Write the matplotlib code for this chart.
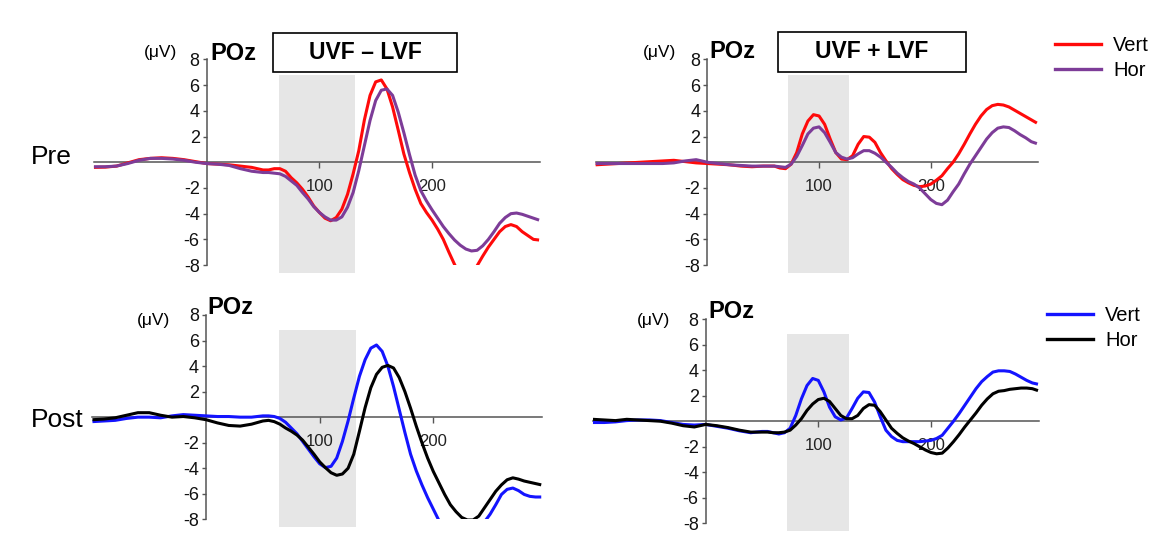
import numpy as np
import matplotlib
matplotlib.use("Agg")
import matplotlib.pyplot as plt
from matplotlib.patches import Rectangle
from matplotlib.lines import Line2D

plt.rcParams['font.family'] = ['Liberation Sans', 'DejaVu Sans']
plt.rcParams['axes.unicode_minus'] = False

# time axis (ms): 10 ms steps in the baseline, 5 ms steps afterwards
t_ms = [-100, -90, -80, -70, -60, -50, -40, -30, -20, -10, 0, 10, 20, 30, 40, 50,
        55, 60, 65, 70, 75, 80, 85, 90, 95, 100, 105, 110, 115, 120, 125, 130,
        135, 140, 145, 150, 155, 160, 165, 170, 175, 180, 185, 190, 195, 200,
        205, 210, 215, 220, 225, 230, 235, 240, 245, 250, 255, 260, 265, 270,
        275, 280, 285, 290, 295]

# Pre, UVF - LVF
pre_diff_vert = [-0.4, -0.38, -0.3, -0.05, 0.2, 0.3, 0.35, 0.3, 0.2, 0.05, -0.1, -0.15, -0.2, -0.3, -0.4, -0.6,
                 -0.6, -0.5, -0.5, -0.7, -1.2, -1.6, -2.1, -2.7, -3.4, -3.9, -4.35, -4.55, -4.3, -3.65, -2.5, -0.9,
                 0.9, 3.3, 5.2, 6.25, 6.4, 5.7, 4.3, 2.5, 0.65, -0.8, -2.1, -3.2, -3.9, -4.5,
                 -5.2, -6.0, -7.0, -7.95, -8.8, -9.2, -8.9, -8.05, -7.3, -6.6, -6.0, -5.4, -5.0, -4.85,
                 -5.0, -5.4, -5.7, -6.0, -6.05]
pre_diff_hor = [-0.35, -0.35, -0.3, -0.1, 0.15, 0.3, 0.3, 0.25, 0.15, 0.0, -0.1, -0.15, -0.25, -0.5, -0.7, -0.8,
                -0.8, -0.85, -0.9, -1.1, -1.45, -1.8, -2.35, -2.85, -3.45, -3.9, -4.25, -4.5, -4.5, -4.25, -3.5, -2.35,
                -0.65, 1.3, 3.25, 4.8, 5.6, 5.7, 5.2, 3.9, 2.3, 0.6, -1.0, -2.2, -3.0, -3.7,
                -4.35, -5.0, -5.55, -6.05, -6.45, -6.75, -6.9, -6.85, -6.5, -6.0, -5.4, -4.75, -4.3, -4.0,
                -3.95, -4.05, -4.2, -4.35, -4.5]

# Pre, UVF + LVF
pre_sum_vert = [-0.2, -0.15, -0.1, -0.05, 0.0, 0.05, 0.1, 0.15, 0.05, -0.05, -0.1, -0.15, -0.2, -0.3, -0.35, -0.3,
                -0.3, -0.3, -0.45, -0.5, -0.15, 0.75, 2.2, 3.2, 3.7, 3.6, 2.95, 1.8, 0.75, 0.25, 0.2, 0.5,
                1.4, 2.0, 1.95, 1.55, 0.75, 0.1, -0.5, -0.95, -1.35, -1.6, -1.8, -1.9, -1.85, -1.7,
                -1.4, -1.05, -0.5, 0.0, 0.65, 1.4, 2.2, 2.95, 3.6, 4.1, 4.4, 4.5, 4.45, 4.3,
                4.05, 3.8, 3.55, 3.3, 3.05]
pre_sum_hor = [-0.1, -0.1, -0.1, -0.1, -0.1, -0.1, -0.1, -0.05, 0.1, 0.2, 0.0, -0.1, -0.2, -0.25, -0.3, -0.3,
               -0.3, -0.3, -0.35, -0.4, -0.15, 0.45, 1.3, 2.2, 2.65, 2.75, 2.3, 1.55, 0.75, 0.4, 0.25, 0.35,
               0.65, 0.9, 0.9, 0.7, 0.4, 0.0, -0.4, -0.85, -1.2, -1.5, -1.7, -2.0, -2.45, -2.9,
               -3.2, -3.3, -2.95, -2.3, -1.7, -0.9, -0.15, 0.5, 1.15, 1.8, 2.3, 2.65, 2.75, 2.7,
               2.45, 2.15, 1.9, 1.6, 1.45]

# Post, UVF - LVF
post_diff_vert = [-0.35, -0.3, -0.25, -0.1, 0.0, 0.0, -0.05, 0.1, 0.2, 0.15, 0.1, 0.05, 0.05, 0.0, 0.0, 0.1,
                  0.1, 0.05, -0.1, -0.4, -0.85, -1.3, -1.9, -2.5, -3.1, -3.65, -3.95, -3.85, -3.2, -1.9, -0.3, 1.5,
                  3.2, 4.5, 5.4, 5.65, 5.15, 4.0, 2.4, 0.6, -1.2, -2.9, -4.2, -5.3, -6.3, -7.2,
                  -8.1, -8.8, -9.3, -9.6, -9.7, -9.6, -9.3, -8.8, -8.2, -7.6, -6.85, -6.05, -5.65, -5.55,
                  -5.75, -6.05, -6.2, -6.25, -6.25]
post_diff_hor = [-0.2, -0.15, -0.05, 0.15, 0.35, 0.35, 0.15, 0.0, 0.05, -0.05, -0.2, -0.45, -0.65, -0.7, -0.55, -0.3,
                 -0.25, -0.35, -0.55, -0.85, -1.1, -1.4, -1.8, -2.35, -2.9, -3.5, -3.95, -4.35, -4.55, -4.45, -4.0, -2.9,
                 -1.1, 0.75, 2.3, 3.35, 3.9, 4.05, 3.85, 3.1, 2.0, 0.7, -0.7, -2.0, -3.2, -4.25,
                 -5.15, -6.05, -6.85, -7.4, -7.85, -8.05, -8.05, -7.75, -7.1, -6.45, -5.8, -5.3, -4.9, -4.75,
                 -4.85, -5.0, -5.1, -5.2, -5.3]

# Post, UVF + LVF
post_sum_vert = [-0.1, -0.1, -0.05, 0.05, 0.1, 0.1, 0.05, -0.1, -0.25, -0.3, -0.25, -0.4, -0.55, -0.75, -0.9, -0.8,
                 -0.8, -0.9, -1.0, -0.9, -0.55, 0.45, 1.75, 2.8, 3.35, 3.2, 2.3, 1.1, 0.35, 0.1, 0.25, 1.0,
                 1.8, 2.3, 2.25, 1.5, 0.35, -0.7, -1.2, -1.5, -1.6, -1.6, -1.6, -1.6, -1.55, -1.5,
                 -1.35, -1.1, -0.55, 0.0, 0.6, 1.25, 1.9, 2.55, 3.1, 3.5, 3.85, 3.95, 3.95, 3.9,
                 3.7, 3.45, 3.2, 3.0, 2.9]
post_sum_hor = [0.15, 0.1, 0.05, 0.15, 0.1, 0.05, 0.0, -0.15, -0.35, -0.45, -0.25, -0.35, -0.5, -0.7, -0.85, -0.85,
                -0.85, -0.9, -0.9, -0.85, -0.7, -0.3, 0.2, 0.85, 1.35, 1.7, 1.8, 1.55, 1.0, 0.45, 0.2, 0.2,
                0.45, 1.0, 1.3, 1.25, 0.75, 0.1, -0.55, -0.95, -1.3, -1.55, -1.75, -2.0, -2.25, -2.45,
                -2.55, -2.5, -2.1, -1.6, -1.05, -0.45, 0.1, 0.65, 1.25, 1.75, 2.15, 2.35, 2.4, 2.5,
                2.55, 2.6, 2.6, 2.55, 2.4]

# analysis windows (ms) shaded in grey
window_diff = (64, 132)
window_sum = (72, 127)

y_ticks = [-8, -6, -4, -2, 2, 4, 6, 8]
x_ticks = [100, 200]

RED, PURPLE, BLUE, BLACK = '#ff0a0a', '#7d3c98', '#1414ff', '#000000'
AXIS_GREY = '#555555'

W, H = 1157, 547
fig = plt.figure(figsize=(W / 100, H / 100), dpi=100)


def px(x, y):
    """pixel position -> figure fraction"""
    return x / W, 1 - y / H


def draw_panel(rect, window, curves):
    ax = fig.add_axes(rect)
    ax.set_xlim(-100, 300)
    ax.set_ylim(-8.7, 8.3)
    ax.fill_between(list(window), -8.6, 6.8, color='#e6e6e6', lw=0, zorder=0)
    clip = Rectangle((-101, -8), 402, 17, transform=ax.transData)
    for vals, col in curves:
        ln, = ax.plot(t_ms, vals, color=col, lw=2.2, zorder=3,
                      solid_capstyle='butt', solid_joinstyle='round')
        ln.set_clip_path(clip)
    for s in ['top', 'right']:
        ax.spines[s].set_visible(False)
    ax.spines['left'].set_position(('data', 0))
    ax.spines['left'].set_bounds(-8, 8)
    ax.spines['bottom'].set_position(('data', 0))
    ax.spines['bottom'].set_bounds(-100, 296)
    for s in ['left', 'bottom']:
        ax.spines[s].set_color(AXIS_GREY)
        ax.spines[s].set_linewidth(1.1)
    ax.set_yticks(y_ticks)
    ax.set_yticklabels([str(v) for v in y_ticks])
    ax.set_xticks(x_ticks)
    ax.tick_params(axis='y', length=3, width=1, color=AXIS_GREY, pad=2, labelsize=13, labelcolor='#111111')
    ax.tick_params(axis='x', length=4, width=1, color=AXIS_GREY, pad=8, labelsize=12, labelcolor='#222222')
    ax.patch.set_visible(False)
    return ax


ax1 = draw_panel([0.0812, 0.4989, 0.3896, 0.3996], window_diff, [(pre_diff_vert, RED), (pre_diff_hor, PURPLE)])
ax2 = draw_panel([0.5148, 0.4989, 0.3862, 0.3996], window_sum, [(pre_sum_vert, RED), (pre_sum_hor, PURPLE)])
ax3 = draw_panel([0.0799, 0.0342, 0.3928, 0.3970], window_diff, [(post_diff_vert, BLUE), (post_diff_hor, BLACK)])
ax4 = draw_panel([0.5125, 0.0269, 0.3895, 0.3967], window_sum, [(post_sum_vert, BLUE), (post_sum_hor, BLACK)])

# electrode and unit labels
for (x, y) in [(210, 53), (709, 51), (207, 307), (708, 311)]:
    fig.text(*px(x, y), 'POz', ha='left', va='center', fontsize=17, fontweight='bold')
for (x, y) in [(177, 53), (676, 53), (170, 321), (670, 321)]:
    fig.text(*px(x, y), '(\u03bcV)', ha='right', va='center', fontsize=12.5)

# condition title boxes
for (x0, y0, x1, y1), label in [((273, 33, 457, 72), 'UVF \u2013 LVF'), ((778, 32, 966, 72), 'UVF + LVF')]:
    fx0, fy1 = px(x0, y0)
    fx1, fy0 = px(x1, y1)
    fig.add_artist(Rectangle((fx0, fy0), fx1 - fx0, fy1 - fy0, transform=fig.transFigure,
                             fill=False, ec='black', lw=1.2))
    fig.text((fx0 + fx1) / 2, (fy0 + fy1) / 2, label, ha='center', va='center',
             fontsize=16.5, fontweight='bold')

# row labels
fig.text(*px(31, 157), 'Pre', ha='left', va='center', fontsize=19)
fig.text(*px(31, 420), 'Post', ha='left', va='center', fontsize=19)

# legends
for (x, y), cols in [((1055, 36), (RED, PURPLE)), ((1047, 306), (BLUE, BLACK))]:
    handles = [Line2D([], [], color=c, lw=2.4) for c in cols]
    fig.legend(handles, ['Vert', 'Hor'], loc='upper left', bbox_to_anchor=px(x, y),
               frameon=False, fontsize=14.5, handlelength=2.3, handletextpad=0.6,
               labelspacing=0.3, borderpad=0, borderaxespad=0)

fig.savefig('out.png', dpi=100)
